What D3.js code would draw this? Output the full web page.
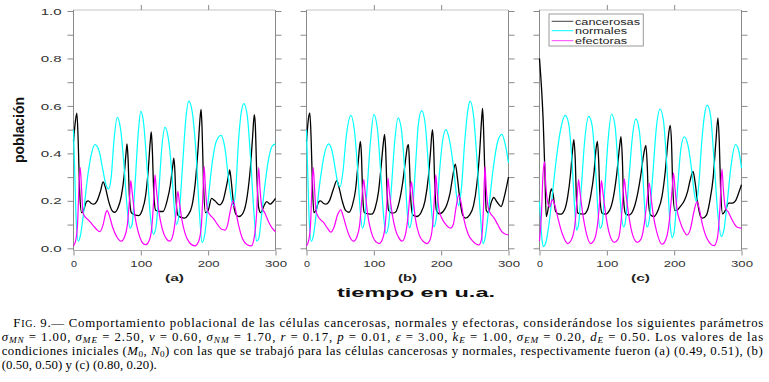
<!DOCTYPE html>
<html><head><meta charset="utf-8">
<script src="https://cdn.jsdelivr.net/npm/d3@7"></script>
<style>body{margin:0;background:#fff}svg{display:block}</style>
</head><body>
<script>
// ---------- data ----------
const tTicks = [0, 100, 200, 300];
const tTopTicks = [100, 200];
const yLabelTicks = [0, 0.2, 0.4, 0.6, 0.8, 1.0];
const yMinorTicks = [0, 0.1, 0.2, 0.3, 0.4, 0.5, 0.6, 0.7, 0.8, 0.9, 1.0];
const panelLabels = ["(a)", "(b)", "(c)"];
const seriesNames = ["cancerosas", "normales", "efectoras"];
const seriesColors = ["#000000", "#00ffff", "#ff00ff"];

const aCanc = [[0,0.45],[3,0.54],[5,0.57],[7,0.45],[9,0.25],[12,0.15],[15,0.16],[19,0.195],[22,0.2],[26,0.19],[30,0.186],[35,0.2],[40,0.24],[44,0.28],[47,0.26],[52,0.2],[57,0.16],[61,0.152],[66,0.17],[71,0.22],[75,0.3],[78,0.4],[79.5,0.44],[81,0.38],[83,0.22],[86,0.15],[92,0.14],[97,0.138],[102,0.16],[107,0.22],[111,0.33],[114,0.45],[115.5,0.49],[117,0.42],[119,0.25],[122,0.16],[127,0.155],[133,0.155],[139,0.2],[144,0.27],[147.5,0.35],[149,0.38],[150.5,0.33],[152,0.22],[155,0.14],[160,0.13],[165,0.127],[170,0.14],[176,0.18],[181,0.28],[185,0.42],[188,0.55],[189.5,0.585],[191,0.5],[193,0.28],[196,0.15],[200,0.16],[205,0.21],[210,0.2],[217,0.183],[222,0.2],[227,0.26],[230.5,0.31],[232,0.33],[234,0.29],[238,0.18],[242,0.14],[246,0.134],[252,0.15],[258,0.22],[263,0.35],[266,0.47],[268.5,0.563],[270,0.52],[272,0.33],[275,0.17],[278,0.15],[283,0.18],[287,0.197],[292,0.186],[296,0.195],[300,0.21]];
const aNorm = [[0,0.5],[2,0.3],[4,0.12],[7,0.03],[10,0.05],[15,0.15],[20,0.28],[26,0.39],[32,0.437],[38,0.41],[43,0.34],[48,0.27],[52,0.25],[56,0.3],[60,0.45],[65,0.552],[70,0.5],[75,0.35],[80,0.16],[84,0.085],[87,0.1],[91,0.25],[96,0.48],[100,0.577],[104,0.53],[109,0.35],[114,0.14],[119,0.06],[123,0.1],[127,0.25],[131,0.42],[136,0.51],[141,0.46],[146,0.32],[150,0.16],[153,0.1],[157,0.15],[162,0.35],[167,0.55],[171,0.62],[176,0.58],[182,0.4],[187,0.15],[191,0.025],[195,0.06],[200,0.2],[206,0.36],[212,0.45],[219,0.476],[225,0.42],[230,0.3],[235,0.2],[238,0.18],[241,0.25],[245,0.45],[249,0.57],[253,0.61],[258,0.56],[263,0.38],[268,0.15],[272,0.03],[275,0.04],[279,0.13],[284,0.26],[290,0.38],[295,0.43],[300,0.44]];
const aEff = [[0,0.01],[3,0.03],[6,0.1],[8,0.25],[10,0.34],[12,0.25],[14,0.15],[18,0.13],[22,0.12],[28,0.1],[34,0.08],[39,0.07],[44,0.1],[48,0.15],[50,0.16],[53,0.14],[58,0.09],[64,0.05],[71,0.03],[76,0.05],[80,0.1],[83,0.2],[85,0.285],[87,0.24],[91,0.14],[96,0.07],[101,0.03],[107,0.015],[112,0.03],[116,0.08],[119,0.2],[121,0.31],[123,0.25],[127,0.15],[132,0.08],[138,0.04],[143,0.03],[148,0.06],[152,0.14],[155,0.24],[157,0.2],[161,0.12],[166,0.06],[172,0.025],[180,0.01],[186,0.03],[190,0.1],[192.5,0.25],[194,0.345],[196,0.25],[199,0.16],[203,0.14],[208,0.125],[214,0.1],[220,0.08],[225,0.077],[229,0.1],[233,0.16],[237,0.2],[240,0.17],[245,0.1],[251,0.04],[258,0.015],[264,0.01],[268,0.04],[272,0.15],[275,0.34],[277,0.25],[280,0.17],[284,0.15],[290,0.11],[295,0.085],[300,0.07]];

const bCanc = [[0,0.45],[3,0.55],[5,0.57],[7,0.45],[9,0.25],[11,0.15],[14,0.16],[18,0.195],[21,0.2],[25,0.19],[29,0.186],[34,0.2],[40,0.25],[45,0.285],[48,0.26],[53,0.2],[58,0.16],[63,0.152],[68,0.18],[73,0.25],[77,0.37],[80,0.45],[81.5,0.4],[83.5,0.22],[86,0.15],[92,0.145],[97,0.144],[102,0.17],[107,0.24],[111,0.35],[114,0.44],[116,0.48],[117.5,0.42],[119.5,0.25],[122,0.16],[127,0.148],[132,0.152],[138,0.2],[143,0.28],[147,0.37],[150,0.43],[151.5,0.437],[153,0.35],[155,0.2],[158,0.14],[164,0.134],[170,0.15],[176,0.2],[181,0.3],[184,0.4],[187,0.5],[188.5,0.45],[190.5,0.27],[193,0.16],[197,0.145],[203,0.155],[208,0.18],[213,0.23],[217,0.3],[221,0.355],[224,0.3],[228,0.2],[232,0.14],[236,0.127],[242,0.14],[248,0.18],[253,0.27],[257,0.4],[260,0.54],[261.5,0.59],[263,0.5],[265,0.3],[267,0.16],[270,0.15],[274,0.19],[278,0.214],[283,0.195],[289,0.176],[294,0.22],[300,0.3]];
const bNorm = [[0,0.5],[2,0.3],[4,0.12],[7,0.03],[10,0.05],[15,0.16],[20,0.28],[26,0.39],[33,0.44],[38,0.41],[43,0.33],[47,0.27],[50,0.26],[54,0.32],[59,0.47],[66,0.56],[71,0.5],[76,0.33],[80,0.15],[83,0.085],[86,0.11],[90,0.25],[95,0.45],[100,0.563],[105,0.51],[110,0.33],[115,0.12],[118,0.063],[122,0.1],[126,0.25],[131,0.45],[136,0.55],[141,0.5],[146,0.32],[150,0.14],[153,0.087],[157,0.14],[162,0.35],[166,0.52],[171,0.58],[176,0.53],[181,0.35],[186,0.15],[189,0.09],[193,0.13],[197,0.3],[202,0.45],[207,0.5],[212,0.46],[218,0.35],[223,0.22],[226,0.18],[230,0.25],[235,0.45],[240,0.59],[243,0.62],[248,0.56],[253,0.38],[258,0.15],[262,0.02],[265,0.04],[270,0.15],[277,0.33],[284,0.45],[290,0.48],[295,0.44],[300,0.36]];
const bEff = [[0,0.01],[3,0.03],[6,0.1],[8,0.25],[10,0.34],[12,0.25],[14,0.16],[17,0.135],[21,0.12],[25,0.11],[31,0.085],[36,0.068],[41,0.09],[46,0.14],[51,0.162],[54,0.14],[59,0.09],[64,0.05],[70,0.03],[75,0.05],[79,0.1],[82,0.2],[85,0.29],[87,0.24],[91,0.14],[96,0.07],[101,0.035],[108,0.02],[113,0.04],[117,0.1],[119.5,0.2],[121,0.296],[123,0.24],[127,0.15],[132,0.08],[137,0.045],[142,0.03],[147,0.06],[151,0.14],[154,0.24],[156,0.28],[158,0.22],[162,0.12],[167,0.06],[173,0.03],[179,0.02],[184,0.04],[188,0.12],[190.5,0.24],[192,0.31],[194,0.24],[197,0.16],[201,0.127],[207,0.1],[214,0.085],[218,0.1],[222,0.17],[226,0.225],[229,0.2],[234,0.12],[240,0.06],[247,0.03],[256,0.014],[260,0.04],[263,0.18],[265,0.345],[267,0.25],[270,0.17],[273,0.148],[278,0.13],[284,0.1],[290,0.07],[295,0.06],[300,0.056]];

const cCanc = [[0,0.8],[1.5,0.74],[3,0.676],[5.5,0.535],[8,0.32],[10,0.134],[13,0.17],[16,0.235],[18,0.25],[20,0.23],[24,0.155],[28,0.145],[32,0.144],[37,0.16],[42,0.22],[46,0.31],[49,0.41],[51,0.458],[53,0.38],[55,0.2],[57,0.148],[62,0.145],[66,0.144],[71,0.16],[76,0.22],[81,0.32],[84,0.42],[86,0.45],[88,0.36],[90,0.2],[93,0.148],[98,0.144],[104,0.16],[110,0.22],[115,0.32],[119,0.43],[121,0.47],[123,0.38],[125,0.2],[128,0.145],[133,0.14],[139,0.16],[145,0.22],[150,0.3],[155,0.4],[158,0.434],[160,0.35],[162,0.19],[165,0.14],[170,0.134],[176,0.16],[182,0.22],[187,0.33],[191,0.46],[194,0.518],[196,0.45],[198,0.25],[201,0.16],[204,0.16],[209,0.176],[215,0.2],[220,0.24],[224,0.29],[228,0.324],[231,0.28],[235,0.19],[239,0.135],[242,0.127],[248,0.14],[253,0.2],[258,0.3],[262,0.45],[265,0.55],[267,0.45],[269,0.25],[272,0.145],[276,0.16],[281,0.19],[286,0.19],[291,0.2],[296,0.235],[300,0.268]];
const cNorm = [[0,0.197],[2,0.1],[4,0.03],[6,0.007],[9,0.02],[14,0.1],[20,0.25],[26,0.4],[32,0.51],[38,0.56],[43,0.53],[48,0.38],[52,0.18],[55,0.077],[58,0.1],[62,0.25],[67,0.45],[73,0.556],[78,0.52],[83,0.35],[87,0.15],[90,0.085],[93,0.1],[97,0.25],[102,0.46],[107,0.566],[112,0.52],[117,0.33],[122,0.13],[125,0.09],[128,0.12],[133,0.3],[138,0.47],[143,0.545],[148,0.5],[153,0.33],[157,0.14],[160,0.09],[163,0.12],[168,0.3],[174,0.52],[179,0.587],[184,0.54],[189,0.35],[194,0.1],[197,0.045],[200,0.07],[205,0.25],[210,0.42],[215,0.47],[220,0.44],[226,0.33],[230,0.23],[233,0.197],[236,0.25],[241,0.45],[245,0.56],[249,0.603],[254,0.56],[259,0.38],[265,0.14],[270,0.05],[274,0.08],[279,0.2],[285,0.36],[291,0.437],[296,0.41],[300,0.338]];
const cEff = [[0,0.03],[3,0.15],[5,0.3],[7.5,0.365],[9.5,0.26],[12,0.197],[15,0.174],[19,0.205],[23,0.18],[28,0.12],[34,0.06],[42,0.02],[48,0.04],[53,0.11],[56,0.22],[58,0.29],[60,0.24],[64,0.15],[69,0.07],[76,0.02],[82,0.04],[87,0.12],[90,0.22],[92,0.285],[94,0.24],[98,0.15],[103,0.07],[111,0.025],[117,0.04],[121,0.11],[124,0.22],[126,0.293],[128,0.24],[132,0.15],[137,0.07],[145,0.025],[151,0.04],[156,0.11],[160,0.21],[163,0.275],[165,0.23],[169,0.14],[174,0.07],[182,0.017],[188,0.04],[193,0.12],[197,0.25],[199,0.317],[201,0.26],[204,0.17],[209,0.11],[214,0.075],[219,0.056],[224,0.08],[229,0.15],[234,0.197],[237,0.17],[242,0.1],[249,0.04],[259,0.011],[264,0.04],[268,0.17],[271,0.334],[273,0.25],[276,0.17],[280,0.155],[286,0.12],[293,0.09],[300,0.085]];

const panelSeries = [[aCanc, aNorm, aEff], [bCanc, bNorm, bEff], [cCanc, cNorm, cEff]];

// ---------- drawing ----------
const W = 769, H = 382;
const svg = d3.select("body").append("svg").attr("width", W).attr("height", H);
const sans = "'Liberation Sans', Arial, Helvetica, sans-serif";
const panelLeft = [73.5, 306.5, 539.5];
const panelW = 202;
const yTop = 10, yBottom = 250.5;
const y = d3.scaleLinear().domain([0, 1]).range([248.3, 11]);
const axisColor = "#8a8a8a";

panelLeft.forEach((x0, i) => {
  const x = d3.scaleLinear().domain([0, 300]).range([x0, x0 + panelW]);
  const g = svg.append("g");
  const x1 = x0 + panelW;

  const left = g.append("g").attr("transform", `translate(${x0},0)`)
    .call(d3.axisLeft(y).tickValues(yMinorTicks).tickSize(6).tickSizeOuter(0).tickFormat(""));
  const right = g.append("g").attr("transform", `translate(${x1},0)`)
    .call(d3.axisRight(y).tickValues(yMinorTicks).tickSize(6).tickSizeOuter(0).tickFormat(""));
  const bottom = g.append("g").attr("transform", `translate(0,${yBottom})`)
    .call(d3.axisBottom(x).tickValues(tTicks).tickSize(5).tickSizeOuter(0).tickFormat(d3.format("d")));
  const top = g.append("g").attr("transform", `translate(0,${yTop})`)
    .call(d3.axisTop(x).tickValues(tTopTicks).tickSize(5).tickSizeOuter(0).tickFormat(""));
  [left, right, bottom, top].forEach(a => {
    a.select(".domain").remove();
    a.selectAll("line").attr("stroke", axisColor).attr("stroke-width", 1);
  });
  bottom.selectAll("text")
    .attr("font-family", sans).attr("font-size", 8.5).attr("fill", "#333")
    .attr("y", 0).attr("dy", 0).attr("transform", "translate(0,16.2)")
    .attr("textLength", d => d === 0 ? 6 : 22).attr("lengthAdjust", "spacingAndGlyphs");

  if (i === 0) {
    const lab = g.append("g");
    lab.selectAll("text").data(yLabelTicks).join("text")
      .attr("x", 61.7).attr("y", d => y(d) + 3.6)
      .attr("text-anchor", "end")
      .attr("font-family", sans).attr("font-size", 8.5).attr("fill", "#333")
      .attr("textLength", 21).attr("lengthAdjust", "spacingAndGlyphs")
      .text(d => d3.format(".1f")(d));
  }

  g.append("line").attr("x1", x0).attr("x2", x0).attr("y1", yTop).attr("y2", yBottom).attr("stroke", axisColor);
  g.append("line").attr("x1", x1).attr("x2", x1).attr("y1", yTop).attr("y2", yBottom).attr("stroke", axisColor);
  g.append("line").attr("x1", x0).attr("x2", x1).attr("y1", yBottom).attr("y2", yBottom).attr("stroke", "#aaa");
  g.append("line").attr("x1", x0).attr("x2", x1).attr("y1", yTop).attr("y2", yTop)
    .attr("stroke", "#888").attr("stroke-dasharray", "1,1");

  const line = d3.line().x(d => x(d[0])).y(d => y(d[1])).curve(d3.curveMonotoneX);
  panelSeries[i].forEach((s, k) => {
    g.append("path").datum(s).attr("d", line)
      .attr("fill", "none").attr("stroke", seriesColors[k])
      .attr("stroke-width", k === 0 ? 1.3 : 1.2).attr("stroke-linejoin", "round");
  });

  g.append("text").attr("x", x0 + panelW / 2).attr("y", 280.5)
    .attr("text-anchor", "middle").attr("font-family", sans).attr("font-weight", "bold")
    .attr("font-size", 9.5).attr("fill", "#222")
    .attr("textLength", 19).attr("lengthAdjust", "spacingAndGlyphs")
    .text(panelLabels[i]);
});

// legend (panel c)
const leg = svg.append("g");
leg.append("rect").attr("x", 549).attr("y", 14).attr("width", 94.3).attr("height", 32)
  .attr("fill", "#fff").attr("stroke", "#999").attr("stroke-width", 1);
const legY = [21.3, 30.7, 40.7];
const legLen = [65, 52, 52];
seriesNames.forEach((n, k) => {
  leg.append("line").attr("x1", 551.7).attr("x2", 573.3).attr("y1", legY[k]).attr("y2", legY[k])
    .attr("stroke", seriesColors[k]).attr("stroke-width", 1).attr("opacity", k === 1 ? 1 : 0.75);
  leg.append("text").attr("x", 575).attr("y", legY[k] + 3.3)
    .attr("font-family", sans).attr("font-size", 8.5).attr("fill", "#222")
    .attr("textLength", legLen[k]).attr("lengthAdjust", "spacingAndGlyphs")
    .text(n);
});

// axis titles
svg.append("text").attr("transform", "translate(24,130) rotate(-90)")
  .attr("text-anchor", "middle").attr("font-family", sans).attr("font-weight", "bold")
  .attr("font-size", 14.5).attr("fill", "#111")
  .attr("textLength", 66).attr("lengthAdjust", "spacingAndGlyphs")
  .text("población");
svg.append("text").attr("x", 416).attr("y", 297)
  .attr("text-anchor", "middle").attr("font-family", sans).attr("font-weight", "bold")
  .attr("font-size", 13).attr("fill", "#111")
  .attr("textLength", 158).attr("lengthAdjust", "spacingAndGlyphs")
  .text("tiempo en u.a.");

// caption
const serif = "'Liberation Serif', 'Times New Roman', serif";
const fs = 12.8;
function capLine(x, yb, len, segs) {
  const t = svg.append("text").attr("x", x).attr("y", yb)
    .attr("font-family", serif).attr("font-size", fs).attr("fill", "#000")
    .style("white-space", "pre");
  if (len) t.attr("textLength", len).attr("lengthAdjust", "spacing");
  let shifted = false;
  segs.forEach(s => {
    const [txt, st] = typeof s === "string" ? [s, ""] : s;
    const sp = t.append("tspan").text(txt);
    if (st.includes("i")) sp.attr("font-style", "italic");
    if (st.includes("s")) { sp.attr("font-size", fs * 0.72); if (!shifted) { sp.attr("dy", 2.5); shifted = true; } }
    else if (shifted) { sp.attr("dy", -2.5); shifted = false; }
    if (st.includes("c")) sp.attr("font-size", fs * 0.78);
  });
}
capLine(13.3, 326.5, 750, ["F", ["IG.", "c"], " 9.— Comportamiento poblacional de las células cancerosas, normales y efectoras, considerándose los siguientes parámetros"]);
capLine(1.7, 340.6, 761.5, [["σ", "i"], ["MN", "is"], " = 1.00, ", ["σ", "i"], ["ME", "is"], " = 2.50, ", ["ν", "i"], " = 0.60, ",
  ["σ", "i"], ["NM", "is"], " = 1.70, ", ["r", "i"], " = 0.17, ", ["p", "i"], " = 0.01, ", ["ε", "i"], " = 3.00, ",
  ["k", "i"], ["E", "is"], " = 1.00, ", ["σ", "i"], ["EM", "is"], " = 0.20, ", ["d", "i"], ["E", "is"], " = 0.50. Los valores de las"]);
capLine(1.7, 354.8, 761, ["condiciones iniciales (", ["M", "i"], ["0", "s"], ", ", ["N", "i"], ["0", "s"],
  ") con las que se trabajó para las células cancerosas y normales, respectivamente fueron (a) (0.49, 0.51), (b)"]);
capLine(1.7, 369, 155, ["(0.50, 0.50) y (c) (0.80, 0.20)."]);
</script>
</body></html>
